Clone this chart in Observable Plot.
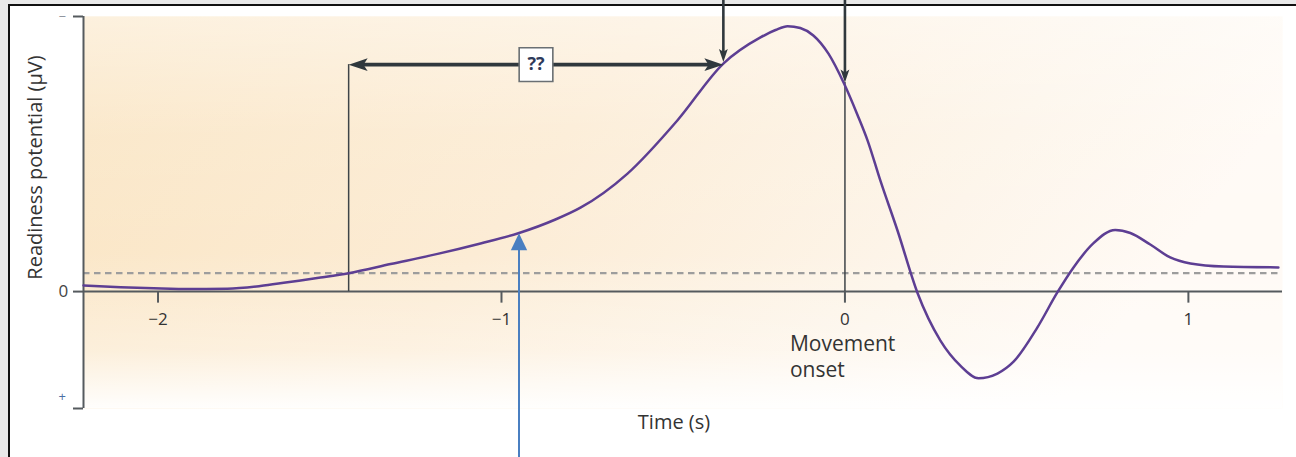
<!DOCTYPE html>
<html><head><meta charset="utf-8">
<script src="https://cdn.jsdelivr.net/npm/d3@7"></script>
<script src="https://cdn.jsdelivr.net/npm/@observablehq/plot@0.6"></script>
<style>
html,body{margin:0;padding:0;background:#fff;}
#page{position:relative;width:1296px;height:457px;overflow:hidden;background:#e9e9e9;}
#sheet{position:absolute;left:8px;top:4px;right:0;bottom:0;background:#fff;border-left:2.5px solid #111;border-top:2.5px solid #111;}
#chart{position:absolute;left:0;top:0;}
</style></head><body>
<div id="page"><div id="sheet"></div><div id="chart"></div></div>
<script>
// Time relative to movement onset (s)
const time = [-2.217,-2.109,-2.013,-1.906,-1.798,-1.702,-1.623,-1.527,-1.445,-1.323,-1.186,-1.061,-0.951,-0.843,-0.770,-0.633,-0.488,-0.354,-0.246,-0.202,-0.167,-0.130,-0.092,-0.048,-0.004,0.036,0.066,0.103,0.153,0.211,0.278,0.336,0.389,0.444,0.491,0.560,0.618,0.665,0.723,0.787,0.831,0.889,0.947,1.006,1.102,1.262];
// Readiness potential (arbitrary µV, negative up)
const potential = [-0.22,-0.16,-0.12,-0.09,-0.10,-0.20,-0.34,-0.51,-0.67,-1.00,-1.37,-1.75,-2.12,-2.62,-3.05,-4.29,-6.22,-8.29,-9.24,-9.51,-9.65,-9.58,-9.31,-8.65,-7.60,-6.44,-5.49,-4.04,-2.22,0.04,1.78,2.69,3.15,2.98,2.55,1.31,0.04,-0.87,-1.75,-2.24,-2.13,-1.71,-1.24,-1.02,-0.91,-0.88];

const xTicks = [-2, -1, 0, 1];
const xTickLabels = ["−2", "−1", "0", "1"];
const yTicks = [-10, 0, 4.25];
const yTickLabels = ["−", "0", "+"];
const xDomain = [-2.217, 1.274];
const yDomain = [-10, 4.25];

const threshold = -0.67;          // dashed baseline level
const crossTime = -1.445;         // curve crosses the threshold
const awareTime = -0.354;         // top arrow (left)
const awareTip = -8.35;
const onsetTip = -7.6;            // top arrow at movement onset
const braceLevel = -8.25;         // level of the double arrow
const topStart = -10.6;           // arrows come in from above the panel
const blueTime = -0.949;
const blueFrom = 6.1;
const blueTip = -2.12;

const curveData = time.map((t, i) => ({t, v: potential[i]}));

const ink = "#30383d";
const axisInk = "#555a5e";
const font = "Open Sans";

// slim notched arrow head pointing up, tip at origin; r = length
const notchHead = {draw(ctx, size) {
  const L = Math.sqrt(size / Math.PI), w = L * 0.34;
  ctx.moveTo(0, 0); ctx.lineTo(w, L); ctx.lineTo(0, L * 0.78); ctx.lineTo(-w, L); ctx.closePath();
}};
const triHead = {draw(ctx, size) {
  const L = Math.sqrt(size / Math.PI), w = L * 0.48;
  ctx.moveTo(0, 0); ctx.lineTo(w, L); ctx.lineTo(-w, L); ctx.closePath();
}};

const svg = Plot.plot({
  width: 1296, height: 457,
  marginLeft: 83, marginRight: 14, marginTop: 16, marginBottom: 49,
  style: {background: "transparent", fontFamily: font},
  x: {domain: xDomain, axis: null},
  y: {domain: yDomain, reverse: true, axis: null},
  marks: [
    Plot.frame({fill: "url(#bgH)", stroke: null}),
    Plot.frame({fill: "url(#bgV)", stroke: null}),
    Plot.ruleY([threshold], {stroke: "#9d9d9d", strokeWidth: 2.2, strokeDasharray: "6.5,4.5"}),
    Plot.ruleY([0], {stroke: axisInk, strokeWidth: 2}),
    Plot.ruleX([xDomain[0]], {y1: yDomain[0], y2: yDomain[1], stroke: axisInk, strokeWidth: 2}),
    Plot.axisY({ticks: yTicks, tickSize: 10, tickFormat: () => "", label: null, stroke: axisInk, strokeWidth: 2}),
    Plot.text(yTicks.slice(0, 2), {y: d => d, text: (d, i) => yTickLabels[i], frameAnchor: "left", dx: -25, fontSize: (d, i) => i === 0 ? 13 : 17, fill: (d, i) => i === 0 ? "#8a8f99" : "#444"}),
    Plot.text([yTicks[2]], {y: d => d, text: [yTickLabels[2]], frameAnchor: "left", dx: -25, dy: -12, fontSize: 13, fill: "#4a6fa5"}),
    Plot.ruleX(xTicks, {y1: 0, y2: 0.42, stroke: axisInk, strokeWidth: 2}),
    Plot.text(xTicks, {x: d => d, y: 0, dy: 28, text: (d, i) => xTickLabels[i], fontSize: 17, fill: "#333"}),
    Plot.text(["Movement\nonset"], {x: 0, y: 0, dx: -55, dy: 64, textAnchor: "start", lineHeight: 1.24, fontSize: 21, fill: "#333"}),
    Plot.text(["Time (s)"], {frameAnchor: "bottom", dx: -9, dy: 20, fontSize: 20, fill: "#333"}),
    Plot.text(["Readiness potential (µV)"], {frameAnchor: "left", textAnchor: "middle", dx: -48, dy: -45, rotate: -90, fontSize: 20, fill: "#333"}),
    // guide lines
    Plot.ruleX([crossTime], {y1: 0, y2: braceLevel, stroke: "#3e4448", strokeWidth: 1.5}),
    Plot.ruleX([0], {y1: 0, y2: onsetTip, stroke: "#3e4448", strokeWidth: 1.5}),
    // curve
    Plot.line(curveData, {x: "t", y: "v", curve: "monotone-x", stroke: "#5d3e93", strokeWidth: 2.5}),
    // double arrow
    Plot.arrow([0], {x1: crossTime, x2: awareTime, y1: braceLevel, y2: braceLevel, headLength: 0, insetStart: 12, insetEnd: 12, stroke: ink, strokeWidth: 3.6}),
    Plot.dot([crossTime], {x: d => d, y: braceLevel, symbol: notchHead, r: 19, rotate: 270, fill: ink, stroke: null}),
    Plot.dot([awareTime], {x: d => d, y: braceLevel, symbol: notchHead, r: 19, rotate: 90, fill: ink, stroke: null}),
    // vertical arrows from above
    Plot.arrow([awareTime], {x1: d => d, x2: d => d, y1: topStart, y2: awareTip, headLength: 0, insetEnd: 8, stroke: ink, strokeWidth: 2.6}),
    Plot.arrow([0], {x1: 0, x2: 0, y1: topStart, y2: onsetTip, headLength: 0, insetEnd: 8, stroke: ink, strokeWidth: 2.6}),
    Plot.dot([awareTime], {x: d => d, y: awareTip, symbol: notchHead, r: 13, rotate: 180, fill: ink, stroke: null}),
    Plot.dot([0], {x: d => d, y: onsetTip, symbol: notchHead, r: 13, rotate: 180, fill: ink, stroke: null}),
    // ?? box
    Plot.dot([(crossTime + awareTime) / 2], {x: d => d, y: braceLevel, symbol: "square", r: 19, fill: "white", stroke: "#6a6f73", strokeWidth: 1.6}),
    Plot.text(["??"], {x: (crossTime + awareTime) / 2, y: braceLevel, fontSize: 18, fontWeight: "bold", fill: "#2e3a5a"}),
    // blue arrow
    Plot.arrow([blueTime], {x1: d => d, x2: d => d, y1: blueFrom, y2: blueTip, headLength: 0, insetEnd: 12, stroke: "#4a7fc1", strokeWidth: 2}),
    Plot.dot([blueTime], {x: d => d, y: blueTip, symbol: triHead, r: 17, fill: "#4a7fc1", stroke: null})
  ]
});

d3.select(svg).insert("defs", ":first-child").html(`
  <linearGradient id="bgH" x1="0" y1="0" x2="1" y2="0.25">
    <stop offset="0" stop-color="#fae5c3"/>
    <stop offset="0.45" stop-color="#fcecd5"/>
    <stop offset="0.8" stop-color="#fdf5ea"/>
    <stop offset="1" stop-color="#fffaf5"/>
  </linearGradient>
  <linearGradient id="bgV" x1="0" y1="0" x2="0" y2="1">
    <stop offset="0" stop-color="#fff" stop-opacity="0.45"/>
    <stop offset="0.3" stop-color="#fff" stop-opacity="0.1"/>
    <stop offset="0.6" stop-color="#fff" stop-opacity="0"/>
    <stop offset="0.85" stop-color="#fff" stop-opacity="0.3"/>
    <stop offset="1" stop-color="#fff" stop-opacity="0.95"/>
  </linearGradient>`);

document.getElementById("chart").appendChild(svg);
</script>
</body></html>
